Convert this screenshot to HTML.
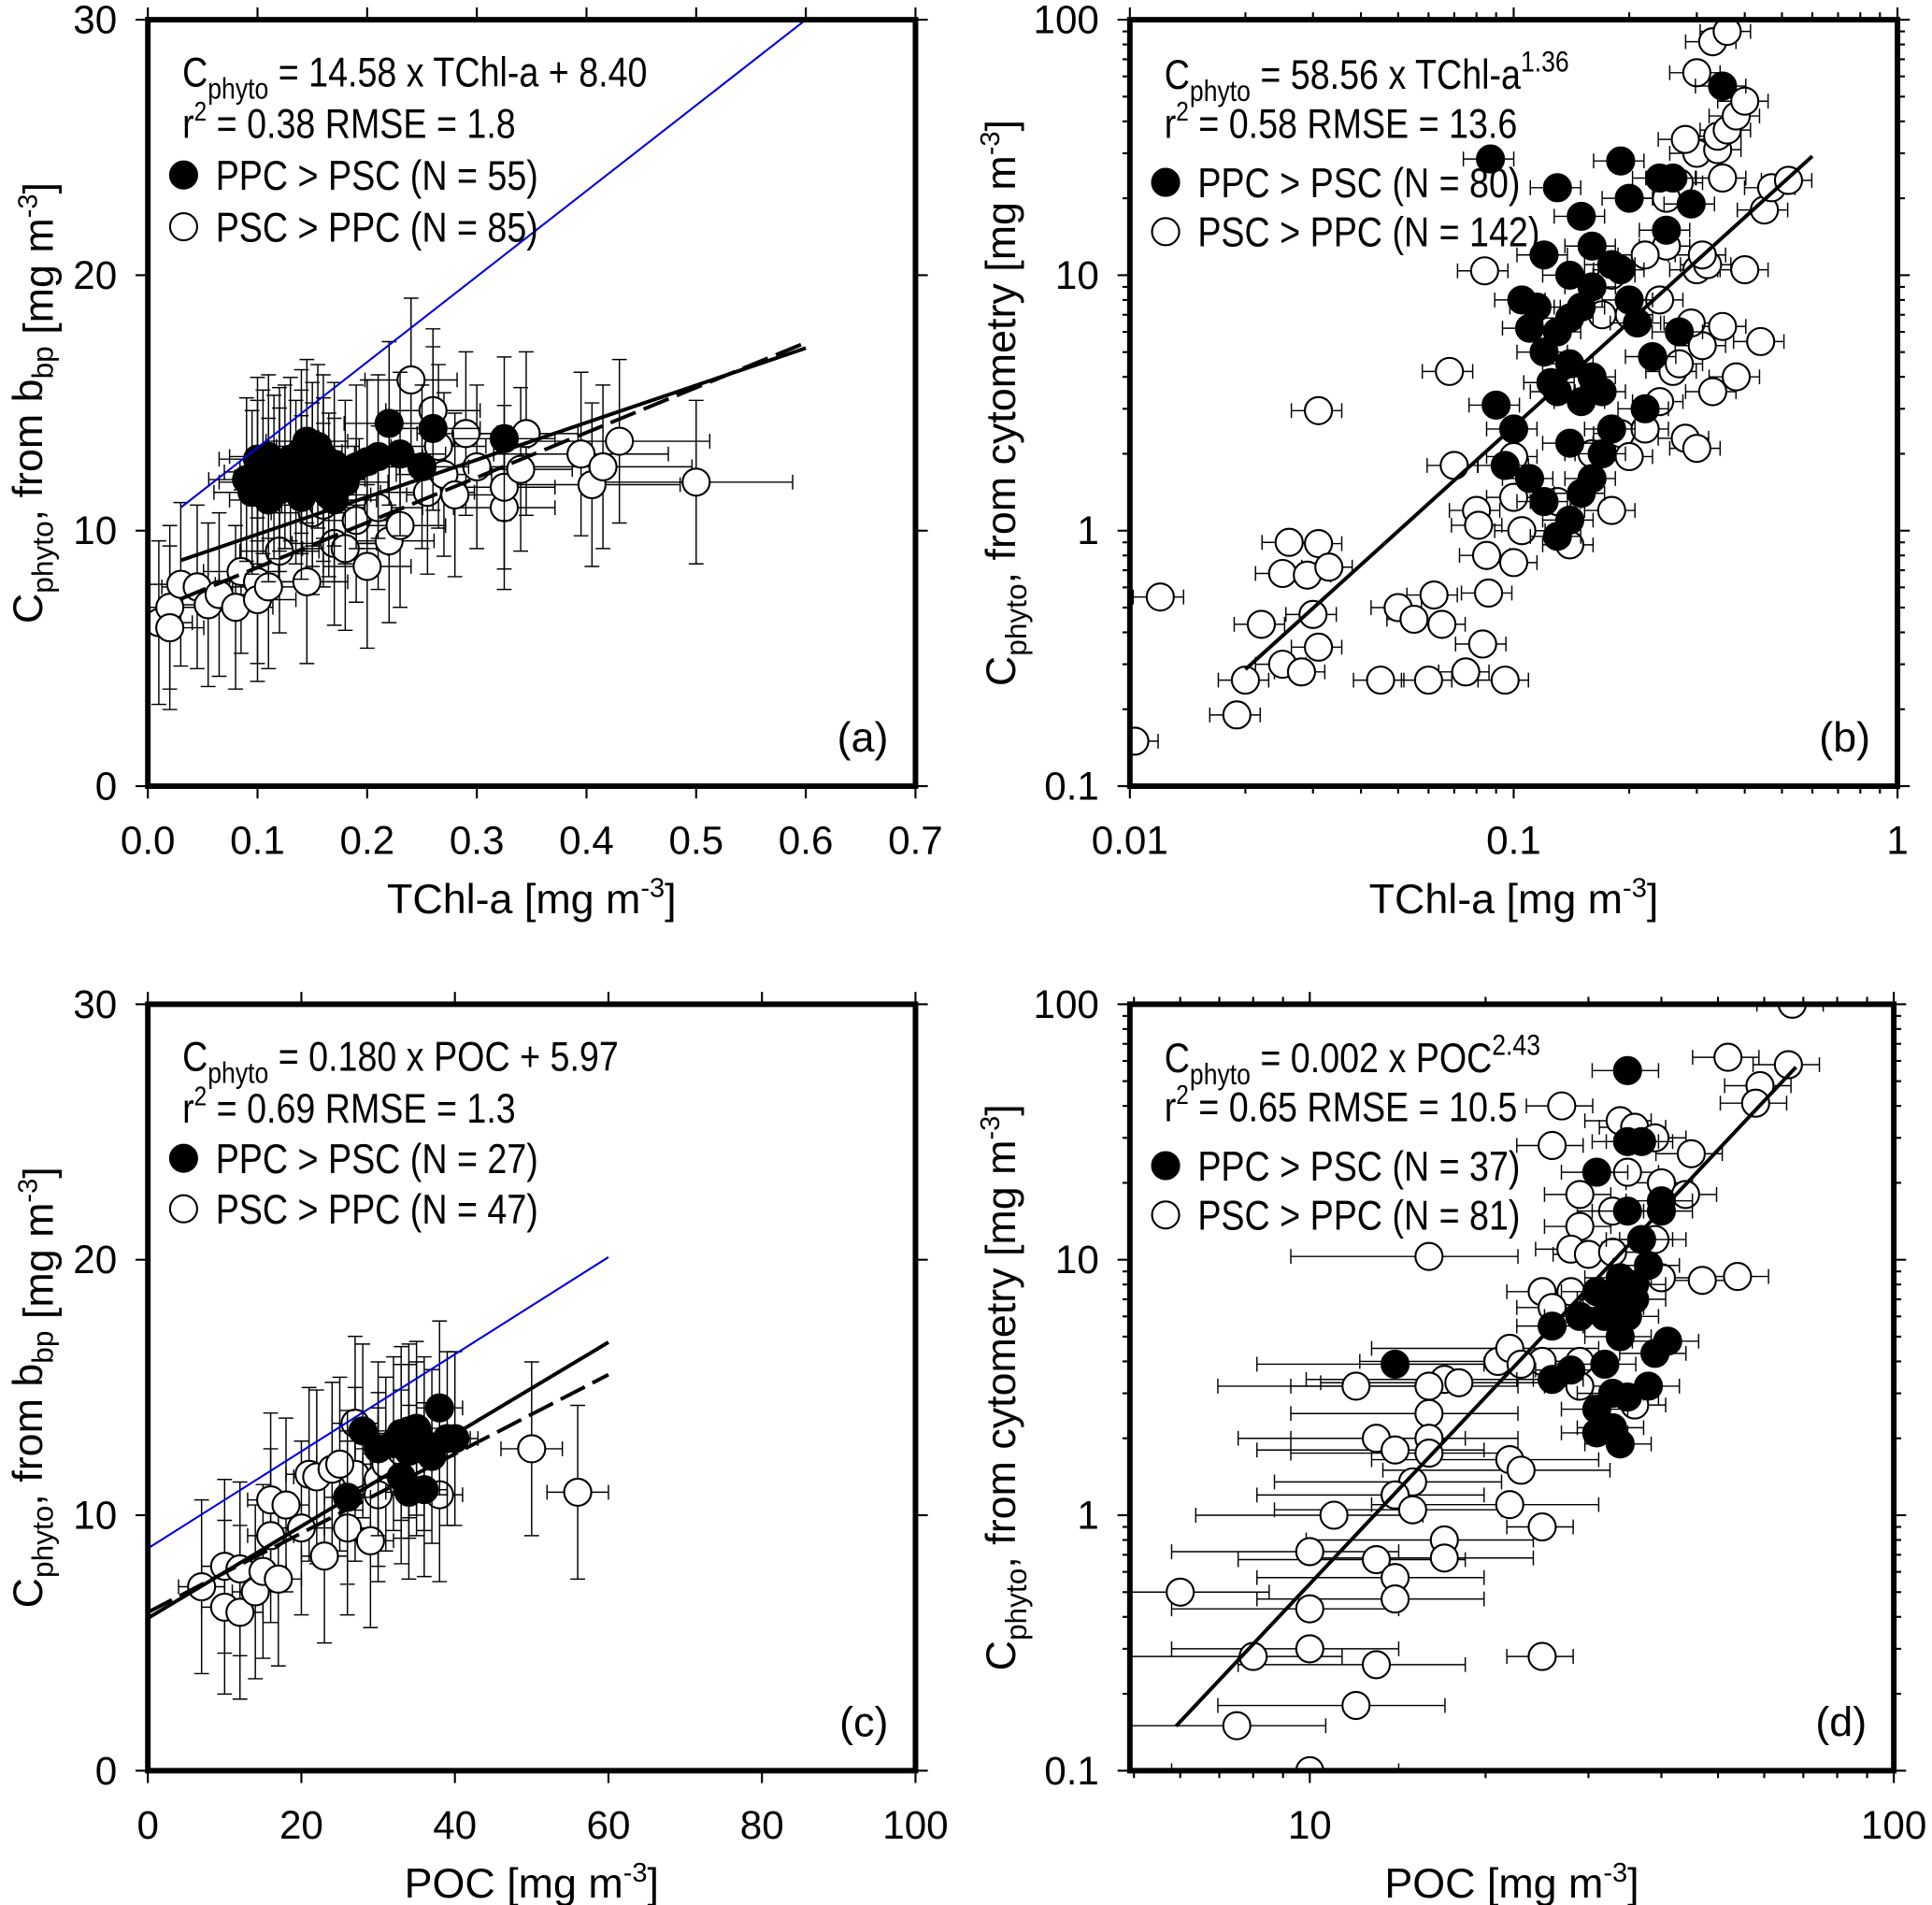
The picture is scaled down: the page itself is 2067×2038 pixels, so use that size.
<!DOCTYPE html>
<html><head><meta charset="utf-8"><style>
html,body{margin:0;padding:0;background:#fff}
svg{display:block;font-family:"Liberation Sans",Arial,sans-serif}
</style></head><body>
<svg id="fig" xmlns="http://www.w3.org/2000/svg" width="2067" height="2038" viewBox="0 0 1568 1546" preserveAspectRatio="none"></svg>
<script>
// ---- Panel (a) data: Cphyto(bbp) vs TChl-a ----
const aFilledX=[0.09,0.095,0.1,0.1,0.105,0.11,0.11,0.115,0.12,0.125,0.13,0.135,0.14,0.14,0.145,0.15,0.15,0.155,0.16,0.16,0.165,0.17,0.17,0.18,0.19,0.2,0.21,0.22,0.23,0.25,0.26,0.325,0.12,0.14];
const aFilledY=[12.0,11.5,12.8,11.9,12.3,11.2,12.9,12.1,11.6,12.5,12.8,11.9,13.1,12.3,13.5,12.6,11.8,13.3,12.9,12.0,11.4,12.6,11.2,11.9,12.5,12.7,12.9,14.2,13.0,12.5,14.0,13.6,12.4,11.3];
const aOpenX=[0.01,0.02,0.02,0.03,0.045,0.055,0.065,0.08,0.085,0.1,0.1,0.11,0.12,0.145,0.15,0.16,0.17,0.18,0.19,0.2,0.21,0.22,0.23,0.24,0.255,0.26,0.265,0.27,0.28,0.29,0.3,0.325,0.325,0.34,0.345,0.395,0.405,0.415,0.43,0.5];
const aOpenY=[6.4,7.0,6.2,7.9,7.8,7.1,7.5,7.0,8.4,8.0,7.3,7.8,9.2,8.0,10.7,11.0,9.5,9.3,10.4,8.6,10.9,9.6,10.2,15.9,11.5,14.7,13.3,12.2,11.4,13.8,12.5,10.9,11.7,12.4,13.8,13.0,11.8,12.5,13.5,11.9];
const aXTicks=[0,0.1,0.2,0.3,0.4,0.5,0.6,0.7];
const aXTickLabels=["0.0","0.1","0.2","0.3","0.4","0.5","0.6","0.7"];
const aYTicks=[0,10,20,30];
const aFit=[14.58,8.40,0.03,0.6];
const aDash=[17.6,6.8,0.03,0.6];
const aBlue=[33.5,9.9,0.03,0.6];

// ---- Panel (b) data ----
const bFilledX=[0.087,0.35,0.13,0.19,0.24,0.26,0.29,0.25,0.15,0.12,0.14,0.16,0.18,0.2,0.105,0.115,0.13,0.12,0.14,0.13,0.15,0.16,0.09,0.1,0.095,0.11,0.12,0.13,0.14,0.15,0.16,0.17,0.18,0.22,0.23,0.27,0.21,0.17,0.14,0.19,0.16,0.2,0.14,0.11,0.125,0.15];
const bFilledY=[28.5,55,22,28,24,24,19,15,17,12,10,9,11,8,8,7.5,6,5,4.5,3.5,3.2,4,3.1,2.5,1.8,1.6,1.3,0.95,1.1,1.4,1.6,2.0,2.5,3,4.8,6,6.5,3.5,2.2,10.5,13,20,6.8,6.2,3.8,7.5];
const bOpenX=[0.0103,0.012,0.019,0.02,0.022,0.025,0.025,0.026,0.028,0.029,0.03,0.031,0.031,0.033,0.031,0.045,0.05,0.055,0.06,0.065,0.062,0.068,0.07,0.075,0.08,0.081,0.083,0.085,0.086,0.084,0.095,0.1,0.1,0.105,0.1,0.14,0.13,0.16,0.18,0.19,0.2,0.22,0.24,0.26,0.28,0.3,0.33,0.35,0.31,0.38,0.3,0.32,0.4,0.44,0.45,0.47,0.52,0.3,0.34,0.34,0.36,0.38,0.4,0.3,0.33,0.36,0.27,0.25,0.24,0.2,0.22,0.17,0.27,0.29,0.31,0.18,0.35,0.28,0.25];
const bOpenY=[0.15,0.55,0.19,0.26,0.43,0.3,0.68,0.9,0.28,0.67,0.47,0.35,0.89,0.72,2.95,0.26,0.5,0.45,0.26,0.43,0.56,4.2,1.8,0.28,1.2,1.05,0.36,0.8,0.57,10.4,0.26,0.75,1.35,1.0,1.95,0.88,1.3,2.0,1.2,2.4,1.95,2.5,3.2,4.2,2.3,2.1,3.5,6.3,5.3,4.0,10.5,11,10.5,5.5,18,22,23.5,30,31,35,37,42,48,62,82,90,23,13,8,7,12,7,4.5,6.5,12,10,24,34,20];
const bXTicks=[0.01,0.1,1];
const bXTickLabels=["0.01","0.1","1"];
const bYTicks=[0.1,1,10,100];
const bYTickLabels=["0.1","1","10","100"];
const bFit=[58.56,1.36,0.02,0.6];

// ---- Panel (c) data ----
const cFilledX=[26,28,32,33,34,35,36,37,38,39,40,33,30,34,36];
const cFilledY=[10.7,13.3,12.8,11.5,12.5,13.4,11.0,12.3,14.2,13.0,13.0,13.2,12.6,10.9,12.8];
const cOpenX=[7,10,10,12,12,14,15,16,16,17,18,20,21,22,23,24,26,27,29,30,31,33,34,35,38,50,56,30,27,25];
const cOpenY=[7.2,8.0,6.4,6.2,7.9,7.0,7.8,9.2,10.6,7.5,10.4,9.5,11.6,11.5,8.4,11.8,9.5,11.6,9.0,11.4,12.0,12.5,13.3,12.6,10.8,12.6,10.9,10.8,13.6,12.0];
const cXTicks=[0,20,40,60,80,100];
const cYTicks=[0,10,20,30];
const cFit=[0.180,5.97,0,60];
const cDash=[0.155,6.2,0,60];
const cBlue=[0.19,8.7,0,60];

// ---- Panel (d) data ----
const dFilledX=[35,31,35,37,35,40,40,37,38,31,33,34,35,36,32,29,26,34,39,41,28,26,32,33,35,38,31,31,33,34,14,36,33];
const dFilledY=[55,22,29,29,15.5,17,15.5,12,9.5,7.5,7,8.5,6,7,6,6,5.5,5,4.3,4.8,3.7,3.4,3.9,3,2.9,3.2,2.6,2.1,2.2,1.9,3.9,8,6.5];
const dOpenX=[67,52,66,59,58,27,34,36,39,45,26,35,40,29,44,33,29,39,28,30,33,16,40,47,54,25,28,26,21,22,25,29,23,17,16,18,12,29,36,16,13,14,16,16,22,23,15,14,15,11,22,25,17,10,13,17,14,6,14,10,10,8,13,25,12,7.5,10];
const dOpenY=[100,62,58,48,41,40,35,33,30,26,28,22,20,18,18,15.5,13.5,12,11,10.5,10.7,10.3,8.5,8.3,8.6,7.5,7.5,6.5,4,4.5,4,4,3.9,3.4,3.2,3.3,3.2,3.2,2.7,2.5,2.0,1.8,2.0,1.75,1.65,1.5,1.35,1.2,1.05,1.0,1.1,0.9,0.8,0.72,0.67,0.68,0.57,0.5,0.47,0.43,0.3,0.28,0.26,0.28,0.18,0.15,0.1];
const dXTicks=[10,100];
const dXTickLabels=["10","100"];
const dYTicks=[0.1,1,10,100];
const dYTickLabels=["0.1","1","10","100"];
const dFit=[0.002,2.43,5.9,68];

const NS="http://www.w3.org/2000/svg";
const svg=document.getElementById('fig');
function el(tag,attrs,parent){const e=document.createElementNS(NS,tag);for(const k in attrs)e.setAttribute(k,attrs[k]);(parent||svg).appendChild(e);return e;}

function makeScale(d0,d1,p0,p1,log){
  if(log){const l0=Math.log10(d0),l1=Math.log10(d1);return v=>p0+(Math.log10(v)-l0)/(l1-l0)*(p1-p0);}
  return v=>p0+(v-d0)/(d1-d0)*(p1-p0);
}

function panel(cfg){
  const g=el('g',{});
  
  
  const sx=makeScale(cfg.xd[0],cfg.xd[1],cfg.L,cfg.R,cfg.logx);
  const sy=makeScale(cfg.yd[0],cfg.yd[1],cfg.B,cfg.T,cfg.logy);
  const tg=el('g',{stroke:'#000','stroke-width':1.6},g);
  
  
  function xt(v,len){const x=sx(v);el('line',{x1:x,x2:x,y1:cfg.B,y2:cfg.B+len},tg);el('line',{x1:x,x2:x,y1:cfg.T,y2:cfg.T-len},tg);}
  function yt(v,len){const y=sy(v);el('line',{x1:cfg.L,x2:cfg.L-len,y1:y,y2:y},tg);el('line',{x1:cfg.R,x2:cfg.R+len,y1:y,y2:y},tg);}
  cfg.xTicks.forEach(v=>xt(v,10));
  cfg.yTicks.forEach(v=>yt(v,10));
  if(cfg.logx){for(let dec=cfg.xd[0];dec<cfg.xd[1];dec*=10){const base=Math.pow(10,Math.floor(Math.log10(dec)+1e-9));for(let m=2;m<10;m++){const v=m*base;if(v>cfg.xd[0]*0.999&&v<cfg.xd[1])xt(v,6);}}}
  if(cfg.logy){for(let dec=cfg.yd[0];dec<cfg.yd[1];dec*=10){for(let m=2;m<10;m++){const v=m*dec;if(v<cfg.yd[1])yt(v,6);}}}
  cfg.xTicks.forEach((v,i)=>{const t=el('text',{x:sx(v),y:cfg.B+55,'font-size':32,'text-anchor':'middle'},g);t.textContent=cfg.xLabels[i];
    
    });
  cfg.yTicks.forEach((v,i)=>{const t=el('text',{x:cfg.L-25,y:sy(v)+11,'font-size':32,'text-anchor':'end'},g);t.textContent=cfg.yLabels[i];
    
    });
  const xtT=el('text',{x:(cfg.L+cfg.R)/2,y:cfg.B+103,'font-size':34,'text-anchor':'middle'},g);
  xtT.innerHTML=cfg.xTitle+' [mg m<tspan dy="-13" font-size="22">-3</tspan><tspan dy="13">]</tspan>';
  
  
  const ytx=cfg.L-(cfg.logy?93:86), yty=(cfg.T+cfg.B)/2;
  const ytT=el('text',{x:ytx,y:yty,'font-size':34,'text-anchor':'middle',transform:`rotate(-90 ${ytx} ${yty})`},g);
  ytT.innerHTML='C<tspan dy="9" font-size="24">phyto</tspan><tspan dy="-9">, from '+cfg.ySrc+' [mg m</tspan><tspan dy="-13" font-size="22">-3</tspan><tspan dy="13">]</tspan>';
  
  
  const cid='clip'+cfg.id;
  const cp=el('clipPath',{id:cid},g);el('rect',{x:cfg.L,y:cfg.T,width:cfg.R-cfg.L,height:cfg.B-cfg.T},cp);
  const plot=el('g',{'clip-path':`url(#${cid})`},g);
  
  
  function lin(p,attrs,name){const l=el('line',Object.assign({x1:sx(p[2]),y1:sy(p[0]*p[2]+p[1]),x2:sx(p[3]),y2:sy(p[0]*p[3]+p[1])},attrs),plot);
    
    }
  function pw(p,name){const l=el('line',{x1:sx(p[2]),y1:sy(p[0]*Math.pow(p[2],p[1])),x2:sx(p[3]),y2:sy(p[0]*Math.pow(p[3],p[1])),stroke:'#000','stroke-width':3},plot);
    
    }
  function pts(xs,ys,fill,name){
    const eg=el('g',{stroke:'#000','stroke-width':1.1,fill:'none'},plot);
    
    
    xs.forEach((x,i)=>{const y=ys[i];const px=sx(x),py=sy(y);
      const ex=cfg.ex(x,fill),ey=cfg.ey(y,fill);
      if(ex>0){const a=sx(x-ex>cfg.xd[0]?x-ex:cfg.xd[0]),b=sx(x+ex);el('line',{x1:a,x2:b,y1:py,y2:py},eg);el('line',{x1:a,x2:a,y1:py-6,y2:py+6},eg);el('line',{x1:b,x2:b,y1:py-6,y2:py+6},eg);}
      if(ey>0){const a=sy(y-ey),b=sy(y+ey);el('line',{x1:px,x2:px,y1:a,y2:b},eg);el('line',{x1:px-6,x2:px+6,y1:a,y2:a},eg);el('line',{x1:px-6,x2:px+6,y1:b,y2:b},eg);}
    });
    const pg=el('g',{stroke:'#000','stroke-width':1.6,fill:fill},plot);
    
    
    xs.forEach((x,i)=>{const c=el('circle',{cx:sx(x),cy:sy(ys[i]),r:11},pg);
      
      });
  }
  pts(cfg.ox,cfg.oy,'#fff','psc-points');
  pts(cfg.fx,cfg.fy,'#000','ppc-points');
  if(cfg.blue)lin(cfg.blue,{stroke:'#0000dd','stroke-width':1.6},'one-to-one-line');
  if(cfg.dash)lin(cfg.dash,{stroke:'#000','stroke-width':3,'stroke-dasharray':'22 7'},'dashed-fit-line');
  if(cfg.logx)pw(cfg.fit,'fit-line');else lin(cfg.fit,{stroke:'#000','stroke-width':3},'fit-line');
  const fr=el('rect',{x:cfg.L,y:cfg.T,width:cfg.R-cfg.L,height:cfg.B-cfg.T,fill:'none',stroke:'#000','stroke-width':4.5},g);
  
  
  // legend (tall, slightly condensed text like the original)
  const lg=el('g',{'font-size':34},g);
  
  
  const lx=cfg.L+28, SX=0.84;
  function lt(x,y,html,name){const t=el('text',{x:0,y:0,transform:`translate(${x} ${y}) scale(${SX} 1)`},lg);t.innerHTML=html;
    
    return t;}
  lt(lx,cfg.leg[0]+12,cfg.eq,'fit-equation');
  lt(lx,cfg.leg[1]+12,'r<tspan dy="-14" font-size="22">2</tspan><tspan dy="14">'+cfg.r2+'</tspan>','fit-statistics');
  const c1=el('circle',{cx:lx+1,cy:cfg.leg[2],r:11,fill:'#000',stroke:'#000','stroke-width':1.6},lg);
  
  
  lt(lx+27,cfg.leg[2]+12,cfg.n1,'legend-entry-ppc');
  const c2=el('circle',{cx:lx+1,cy:cfg.leg[3],r:11,fill:'#fff',stroke:'#000','stroke-width':1.6},lg);
  
  
  lt(lx+27,cfg.leg[3]+12,cfg.n2,'legend-entry-psc');
  const pl=el('text',{x:cfg.R-22,y:cfg.B-28,'font-size':34,'text-anchor':'end'},g);pl.textContent=cfg.tag;
  
  
}

const sub='C<tspan dy="10" font-size="24">phyto</tspan><tspan dy="-10">';
panel({id:'a',name:'panel-a',L:120,R:743,T:16,B:638,xd:[0,0.7],yd:[0,30],logx:false,logy:false,
  xTicks:aXTicks,xLabels:aXTickLabels,yTicks:aYTicks,yLabels:aYTicks.map(String),xTitle:'TChl-a',ySrc:'b<tspan dy="9" font-size="24">bp</tspan><tspan dy="-9"></tspan>',
  fx:aFilledX,fy:aFilledY,ox:aOpenX,oy:aOpenY,fit:aFit,dash:aDash,blue:aBlue,
  ex:(x,f)=>Math.min(0.03+x*0.05,0.1)*(x>0.35?1.6:1),ey:(y,f)=>3.2,
  leg:[58,100,142,184],eq:sub+' = 14.58 x TChl-a + 8.40</tspan>',r2:' = 0.38 RMSE = 1.8',n1:'PPC > PSC (N = 55)',n2:'PSC > PPC (N = 85)',tag:'(a)'});
panel({id:'b',name:'panel-b',L:917,R:1540,T:16,B:638,xd:[0.01,1],yd:[0.1,100],logx:true,logy:true,
  xTicks:bXTicks,xLabels:bXTickLabels,yTicks:bYTicks,yLabels:bYTickLabels,xTitle:'TChl-a',ySrc:'cytometry',
  fx:bFilledX,fy:bFilledY,ox:bOpenX,oy:bOpenY,fit:bFit,
  ex:(x,f)=>x*0.15,ey:(y,f)=>y*0.08,
  leg:[60,100,148,188],eq:sub+' = 58.56 x TChl-a</tspan><tspan dy="-14" font-size="24">1.36</tspan>',r2:' = 0.58 RMSE = 13.6',n1:'PPC > PSC (N = 80)',n2:'PSC > PPC (N = 142)',tag:'(b)'});
panel({id:'c',name:'panel-c',L:120,R:743,T:815,B:1437,xd:[0,100],yd:[0,30],logx:false,logy:false,
  xTicks:cXTicks,xLabels:cXTicks.map(String),yTicks:cYTicks,yLabels:cYTicks.map(String),xTitle:'POC',ySrc:'b<tspan dy="9" font-size="24">bp</tspan><tspan dy="-9"></tspan>',
  fx:cFilledX,fy:cFilledY,ox:cOpenX,oy:cOpenY,fit:cFit,dash:cDash,blue:cBlue,
  ex:(x,f)=>x>45?4:3,ey:(y,f)=>3.4,
  leg:[857,899,940,981],eq:sub+' = 0.180 x POC + 5.97</tspan>',r2:' = 0.69 RMSE = 1.3',n1:'PPC > PSC (N = 27)',n2:'PSC > PPC (N = 47)',tag:'(c)'});
panel({id:'d',name:'panel-d',L:917,R:1537,T:815,B:1437,xd:[4.92,100],yd:[0.1,100],logx:true,logy:true,
  xTicks:dXTicks,xLabels:dXTickLabels,yTicks:dYTicks,yLabels:dYTickLabels,xTitle:'POC',ySrc:'cytometry',
  fx:dFilledX,fy:dFilledY,ox:dOpenX,oy:dOpenY,fit:dFit,
  ex:(x,f)=>x*(x<25?0.42:0.13),ey:(y,f)=>0,
  leg:[858,898,946,986],eq:sub+' = 0.002 x POC</tspan><tspan dy="-14" font-size="24">2.43</tspan>',r2:' = 0.65 RMSE = 10.5',n1:'PPC > PSC (N = 37)',n2:'PSC > PPC (N = 81)',tag:'(d)'});
</script>
</body></html>
